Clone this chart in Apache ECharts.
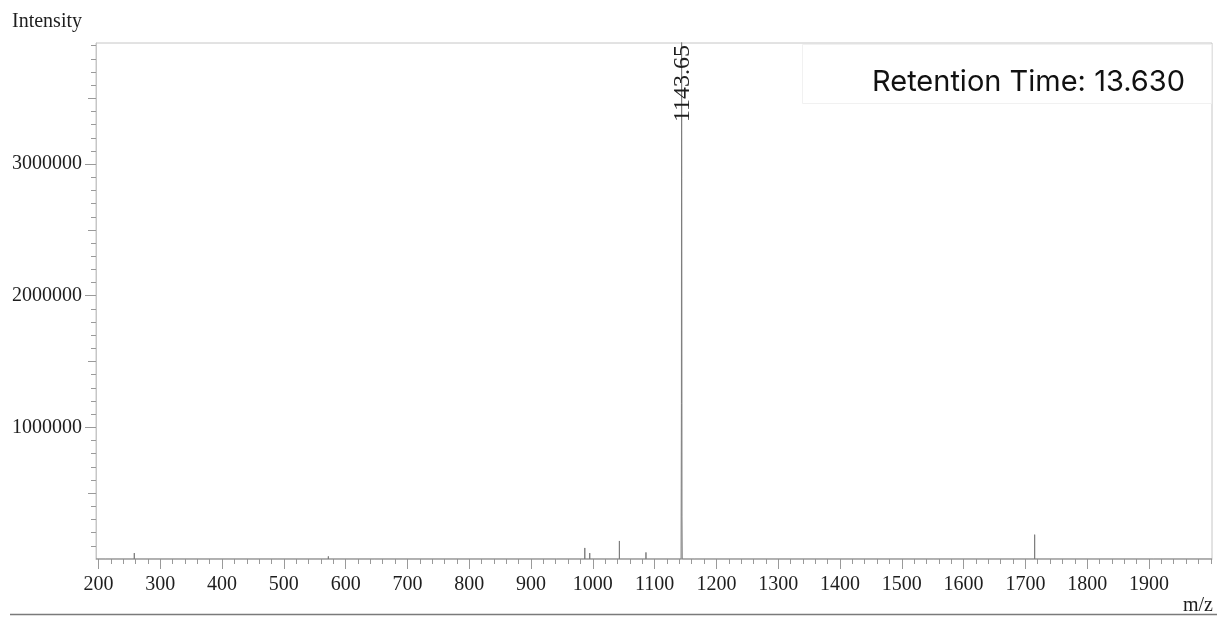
<!DOCTYPE html>
<html>
<head>
<meta charset="utf-8">
<title>Mass spectrum</title>
<script src="https://cdn.jsdelivr.net/npm/echarts@6/dist/echarts.min.js"></script>
<style>
  html, body { margin: 0; padding: 0; background: #ffffff; }
  #chart { width: 1217px; height: 617px; }
</style>
</head>
<body>
<div id="chart"></div>
<script>
// Centroid sticks (m/z, intensity)
const stickMz  = [211, 258, 489, 572, 941, 987, 995, 1043, 1086, 1165, 1715, 1907];
const stickInt = [8000, 45000, 12000, 20000, 10000, 84000, 45000, 137000, 50000, 15000, 185000, 8000];

// Profile points of the base peak
const baseMz  = [1142.8, 1143.35, 1143.65, 1143.95, 1144.3, 1144.7];
const baseInt = [0, 1180000, 4100000, 2890000, 320000, 0];

// Labelled peak
const labelMz = [1143.65];

// Axis ranges and tick values
const mzRange = [196, 2002];
const intRange = [0, 3920000];
const xMajorTicks = [200, 300, 400, 500, 600, 700, 800, 900, 1000, 1100, 1200, 1300, 1400, 1500, 1600, 1700, 1800, 1900];
const yMajorTicks = [1000000, 2000000, 3000000];

const retentionText = 'Retention Time: 13.630';

// tick helpers
function stepValues(from, to, step) {
  const out = [];
  for (let v = from; v <= to + 1e-9; v += step) out.push(Math.round(v));
  return out;
}
const xMinorTicks = stepValues(200, 2000, 20);
const yMidTicks = stepValues(500000, 3500000, 1000000);
const yMinorTicks = stepValues(100000, 3900000, 100000);

// build the trace: baseline with vertical sticks and the profiled base peak
const pts = [];
stickMz.forEach((m, i) => pts.push({ m, kind: 'stick', v: stickInt[i] }));
baseMz.forEach((m, i) => pts.push({ m, kind: 'prof', v: baseInt[i] }));
pts.sort((a, b) => a.m - b.m);
const trace = [[mzRange[0], 0]];
pts.forEach(p => {
  if (p.kind === 'stick') {
    trace.push([p.m, 0], [p.m, p.v], [p.m, 0]);
  } else {
    trace.push([p.m, p.v]);
  }
});
trace.push([mzRange[1], 0]);

const serif = '"Liberation Serif", "Times New Roman", serif';
const axisGray = '#c6c6c6';
const tickGray = '#9a9a9a';
const textDark = '#1e1e1e';
const plain = v => String(v);

const chart = echarts.init(document.getElementById('chart'), null, { renderer: 'canvas' });

const baseX = {
  type: 'value', min: mzRange[0], max: mzRange[1], gridIndex: 0,
  splitLine: { show: false }, position: 'bottom'
};
const baseY = {
  type: 'value', min: intRange[0], max: intRange[1], gridIndex: 0,
  splitLine: { show: false }, position: 'left'
};

const staticGraphics = [
  {
    id: 'rtBox', type: 'rect', left: 802, top: 44, z: 1,
    shape: { width: 409, height: 59 },
    style: { fill: '#ffffff', stroke: '#f1f1f1', lineWidth: 1 }
  },
  {
    id: 'rtText', type: 'text', z: 10,
    style: {
      text: retentionText, x: 1185, y: 82,
      align: 'right', verticalAlign: 'middle',
      font: '29px Inter, "Open Sans", sans-serif', fill: '#111111'
    }
  },
  {
    id: 'yName', type: 'text', z: 10,
    style: {
      text: 'Intensity', x: 12, y: 22,
      align: 'left', verticalAlign: 'middle',
      font: '20px ' + serif, fill: textDark
    }
  },
  {
    id: 'xName', type: 'text', z: 10,
    style: {
      text: 'm/z', x: 1213, y: 606,
      align: 'right', verticalAlign: 'middle',
      font: '20px ' + serif, fill: textDark
    }
  },
  {
    id: 'xNameTop', type: 'text', z: 10,
    style: {
      text: 'm/z', x: 1213, y: -6,
      align: 'right', verticalAlign: 'middle',
      font: '20px ' + serif, fill: textDark
    }
  },
  {
    id: 'rule', type: 'line', z: 10,
    shape: { x1: 10, y1: 614.5, x2: 1217, y2: 614.5 },
    style: { stroke: '#7a7a7a', lineWidth: 1.5 }
  }
];

chart.setOption({
  animation: false,
  backgroundColor: '#ffffff',
  grid: {
    left: 96, top: 43, right: 5, bottom: 58,
    show: true, borderColor: axisGray, borderWidth: 1, backgroundColor: 'transparent'
  },
  xAxis: [
    Object.assign({}, baseX, {
      axisLine: { show: true, lineStyle: { color: axisGray, width: 1 } },
      axisTick: { show: true, length: 10, lineStyle: { color: tickGray }, customValues: xMajorTicks },
      axisLabel: {
        show: true, margin: 16, fontFamily: serif, fontSize: 20, color: textDark,
        customValues: xMajorTicks, formatter: plain
      }
    }),
    Object.assign({}, baseX, {
      axisLine: { show: false },
      axisTick: { show: true, length: 5, lineStyle: { color: tickGray }, customValues: xMinorTicks },
      axisLabel: { show: false }
    })
  ],
  yAxis: [
    Object.assign({}, baseY, {
      axisLine: { show: true, lineStyle: { color: axisGray, width: 1 } },
      axisTick: { show: true, length: 11, lineStyle: { color: tickGray }, customValues: yMajorTicks },
      axisLabel: {
        show: true, margin: 14, fontFamily: serif, fontSize: 20, color: textDark,
        customValues: yMajorTicks, formatter: plain
      }
    }),
    Object.assign({}, baseY, {
      axisLine: { show: false },
      axisTick: { show: true, length: 8, lineStyle: { color: tickGray }, customValues: yMidTicks },
      axisLabel: { show: false }
    }),
    Object.assign({}, baseY, {
      axisLine: { show: false },
      axisTick: { show: true, length: 5, lineStyle: { color: tickGray }, customValues: yMinorTicks },
      axisLabel: { show: false }
    })
  ],
  series: [
    {
      type: 'line',
      xAxisIndex: 0, yAxisIndex: 0,
      data: trace,
      showSymbol: false,
      symbol: 'none',
      clip: true,
      lineStyle: { color: '#7d7d7d', width: 1 },
      silent: true,
      z: 3
    }
  ],
  graphic: staticGraphics
});

// rotated m/z label above the base peak, positioned through the axis scales
const peakLabels = labelMz.map((m, i) => {
  const px = chart.convertToPixel({ xAxisIndex: 0, yAxisIndex: 0 }, [m, intRange[1]]);
  return {
    id: 'peakLabel' + i, type: 'text', z: 12,
    x: px[0] + 1, y: px[1] + 2,
    rotation: Math.PI / 2,
    style: {
      text: m.toFixed(2), x: 0, y: 0,
      align: 'right', verticalAlign: 'middle',
      font: '24px ' + serif, fill: textDark
    }
  };
});
chart.setOption({ graphic: staticGraphics.concat(peakLabels) });
</script>
</body>
</html>
